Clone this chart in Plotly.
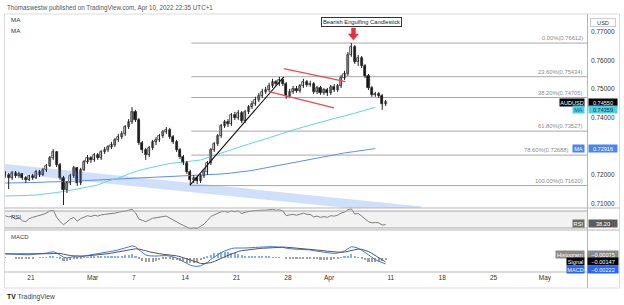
import plotly.graph_objects as go

W, H = 624, 305
FONT = "Liberation Sans, Arial, sans-serif"

# ---------------- data ----------------
opens = [0.7206, 0.7199, 0.7189, 0.7206, 0.7196, 0.7203, 0.7189, 0.7182, 0.7196, 0.7189,
         0.7210, 0.7199, 0.7217, 0.7231, 0.7259, 0.7280, 0.7234, 0.7189, 0.7147, 0.7171,
         0.7196, 0.7224, 0.7171, 0.7217, 0.7245, 0.7259, 0.7252, 0.7269, 0.7259, 0.7280,
         0.7287, 0.7297, 0.7304, 0.7322, 0.7332, 0.7343, 0.7367, 0.7385, 0.7420, 0.7392,
         0.7311, 0.7287, 0.7269, 0.7294, 0.7315, 0.7322, 0.7336, 0.7350, 0.7357, 0.7332,
         0.7315, 0.7287, 0.7262, 0.7241, 0.7210, 0.7182, 0.7189, 0.7178, 0.7196, 0.7210,
         0.7241, 0.7287, 0.7308, 0.7336, 0.7371, 0.7385, 0.7378, 0.7409, 0.7399, 0.7416,
         0.7388, 0.7420, 0.7437, 0.7448, 0.7462, 0.7476, 0.7490, 0.7497, 0.7511, 0.7525,
         0.7518, 0.7532, 0.7518, 0.7476, 0.7490, 0.7501, 0.7494, 0.7511, 0.7525, 0.7515,
         0.7518, 0.7490, 0.7504, 0.7487, 0.7497, 0.7487, 0.7508, 0.7497, 0.7511, 0.7539,
         0.7553, 0.76195, 0.76475, 0.7595, 0.7609, 0.7581, 0.7546, 0.7504, 0.7480, 0.7483,
         0.7476, 0.7448]
highs = [0.7213, 0.7206, 0.7213, 0.7213, 0.7210, 0.7206, 0.7196, 0.7199, 0.7203, 0.7217,
         0.7217, 0.7224, 0.7238, 0.7266, 0.7290, 0.7283, 0.7241, 0.7196, 0.7178, 0.7203,
         0.7231, 0.7227, 0.7224, 0.7252, 0.7269, 0.7266, 0.7276, 0.7276, 0.7287, 0.7297,
         0.7304, 0.7315, 0.7329, 0.7343, 0.7353, 0.7374, 0.7395, 0.7437, 0.7427, 0.7399,
         0.7318, 0.7294, 0.7301, 0.7322, 0.7332, 0.7343, 0.7357, 0.7367, 0.7364, 0.7339,
         0.7322, 0.7294, 0.7269, 0.7248, 0.7217, 0.7199, 0.7196, 0.7203, 0.7220, 0.7248,
         0.7294, 0.7315, 0.7343, 0.7378, 0.7392, 0.7395, 0.7416, 0.7420, 0.7427, 0.7423,
         0.7427, 0.7444, 0.7459, 0.7473, 0.7487, 0.7501, 0.7508, 0.7522, 0.7536, 0.7532,
         0.7543, 0.7539, 0.7525, 0.7501, 0.7511, 0.7511, 0.7518, 0.7536, 0.7532, 0.7529,
         0.7525, 0.7511, 0.7511, 0.7504, 0.7504, 0.7515, 0.7518, 0.7518, 0.7550, 0.7564,
         0.7630, 0.76612, 0.76545, 0.76195, 0.7616, 0.7588, 0.7553, 0.7511, 0.7490, 0.7490,
         0.7483, 0.7462]
lows = [0.7189, 0.7150, 0.7182, 0.7189, 0.7189, 0.7182, 0.7171, 0.7178, 0.7182, 0.7185,
        0.7192, 0.7196, 0.7210, 0.7227, 0.7252, 0.7227, 0.7182, 0.7094, 0.7136, 0.7164,
        0.7189, 0.7161, 0.7164, 0.7213, 0.7238, 0.7241, 0.7245, 0.7252, 0.7252, 0.7273,
        0.7280, 0.7290, 0.7297, 0.7315, 0.7325, 0.7336, 0.7360, 0.7378, 0.7385, 0.7304,
        0.7276, 0.7252, 0.7262, 0.7287, 0.7304, 0.7315, 0.7329, 0.7343, 0.7325, 0.7308,
        0.7280, 0.7255, 0.7234, 0.7203, 0.7162, 0.7171, 0.7168, 0.7171, 0.7189, 0.7199,
        0.7234, 0.7280, 0.7301, 0.7329, 0.7364, 0.7367, 0.7371, 0.7392, 0.7392, 0.7381,
        0.7381, 0.7413, 0.7430, 0.7441, 0.7455, 0.7469, 0.7483, 0.7490, 0.7504, 0.7511,
        0.7511, 0.7511, 0.7466, 0.7469, 0.7483, 0.7487, 0.7487, 0.7504, 0.7508, 0.7508,
        0.7483, 0.7483, 0.7480, 0.7480, 0.7476, 0.7480, 0.7490, 0.7490, 0.7504, 0.7532,
        0.7546, 0.7613, 0.7588, 0.7581, 0.7574, 0.7539, 0.7497, 0.7473, 0.7473, 0.7469,
        0.7427, 0.7441]
closes = [0.7199, 0.7189, 0.7206, 0.7196, 0.7203, 0.7189, 0.7182, 0.7196, 0.7189, 0.7210,
          0.7199, 0.7217, 0.7231, 0.7259, 0.7280, 0.7234, 0.7189, 0.7147, 0.7171, 0.7196,
          0.7224, 0.7171, 0.7217, 0.7245, 0.7259, 0.7252, 0.7269, 0.7259, 0.7280, 0.7287,
          0.7297, 0.7304, 0.7322, 0.7332, 0.7343, 0.7367, 0.7385, 0.7420, 0.7392, 0.7311,
          0.7287, 0.7269, 0.7294, 0.7315, 0.7322, 0.7336, 0.7350, 0.7357, 0.7332, 0.7315,
          0.7287, 0.7262, 0.7241, 0.7210, 0.7182, 0.7189, 0.7178, 0.7196, 0.7210, 0.7241,
          0.7287, 0.7308, 0.7336, 0.7371, 0.7385, 0.7378, 0.7409, 0.7399, 0.7416, 0.7388,
          0.7420, 0.7437, 0.7448, 0.7462, 0.7476, 0.7490, 0.7497, 0.7511, 0.7525, 0.7518,
          0.7532, 0.7518, 0.7476, 0.7490, 0.7501, 0.7494, 0.7511, 0.7525, 0.7515, 0.7518,
          0.7490, 0.7504, 0.7487, 0.7497, 0.7487, 0.7508, 0.7497, 0.7511, 0.7539, 0.7553,
          0.76195, 0.76475, 0.7595, 0.7609, 0.7581, 0.7546, 0.7504, 0.7480, 0.7483, 0.7476,
          0.7448, 0.7455]

ma_fast = [0.71256, 0.71256, 0.71273, 0.71291, 0.71326, 0.71378, 0.71431, 0.71501, 0.71571,
           0.71641, 0.71781, 0.71886, 0.72026, 0.72149, 0.72237, 0.72324, 0.72394, 0.72429,
           0.72464, 0.72517, 0.72640, 0.72762, 0.72885, 0.73007, 0.73112, 0.73217, 0.73340,
           0.73462, 0.73567, 0.73672, 0.73777, 0.73882, 0.73970, 0.74057, 0.74162, 0.74250,
           0.74359]
ma_slow = [0.71711, 0.71711, 0.71728, 0.71728, 0.71746, 0.71746, 0.71763, 0.71781, 0.71798,
           0.71816, 0.71833, 0.71851, 0.71868, 0.71886, 0.71903, 0.71921, 0.71938, 0.71956,
           0.71956, 0.71973, 0.71991, 0.72026, 0.72061, 0.72096, 0.72149, 0.72219, 0.72289,
           0.72341, 0.72411, 0.72481, 0.72551, 0.72621, 0.72691, 0.72762, 0.72814, 0.72867,
           0.72916]

rsi = [59, 56, 58, 51, 54, 47, 45, 52, 55, 57,
       59, 62, 65, 70, 72, 55, 45, 38, 44, 51,
       55, 46, 52, 56, 59, 57, 60, 58, 61, 62,
       63, 63, 65, 67, 68, 70, 72, 74, 66, 51,
       48, 45, 49, 53, 54, 56, 57, 58, 53, 50,
       44, 40, 36, 32, 28, 30, 29, 34, 39, 48,
       57, 61, 65, 68, 69, 67, 70, 68, 70, 64,
       67, 69, 70, 71, 72, 72, 72, 73, 74, 72,
       73, 70, 59, 61, 62, 60, 63, 65, 62, 62,
       56, 58, 55, 57, 55, 59, 58, 60, 65, 67,
       73, 75, 63, 64, 58, 51, 45, 42, 43, 42,
       37, 38.2]

macd = [0.0016, 0.0015, 0.0015, 0.0014, 0.0014, 0.0013, 0.0012, 0.0012, 0.0013, 0.0014,
        0.0015, 0.0016, 0.0018, 0.0021, 0.0023, 0.0019, 0.0012, 0.0003, 0.0000, 0.0002,
        0.0005, 0.0003, 0.0005, 0.0008, 0.0011, 0.0013, 0.0015, 0.0017, 0.0019, 0.0021,
        0.0023, 0.0025, 0.0027, 0.0030, 0.0033, 0.0037, 0.0041, 0.0045, 0.0042, 0.0030,
        0.0020, 0.0011, 0.0008, 0.0007, 0.0007, 0.0008, 0.0009, 0.0009, 0.0007, 0.0004,
        0.0000, -0.0006, -0.0013, -0.0020, -0.0027, -0.0030, -0.0031, -0.0029, -0.0024, -0.0016,
        -0.0005, 0.0004, 0.0012, 0.0020, 0.0026, 0.0031, 0.0035, 0.0037, 0.0038, 0.0037,
        0.0037, 0.0037, 0.0038, 0.0039, 0.0040, 0.0041, 0.0041, 0.0042, 0.0042, 0.0041,
        0.0041, 0.0040, 0.0036, 0.0034, 0.0033, 0.0032, 0.0032, 0.0032, 0.0031, 0.0030,
        0.0027, 0.0025, 0.0022, 0.0020, 0.0018, 0.0018, 0.0017, 0.0018, 0.0022, 0.0026,
        0.0034, 0.0042, 0.0040, 0.0036, 0.0029, 0.0020, 0.0010, 0.0001, -0.0006, -0.0012,
        -0.0018, -0.00222]
signal = [0.0015, 0.0015, 0.0015, 0.0015, 0.0015, 0.0014, 0.0014, 0.0014, 0.0014, 0.0014,
          0.0014, 0.0015, 0.0015, 0.0016, 0.0017, 0.0018, 0.0017, 0.0014, 0.0011, 0.0009,
          0.0008, 0.0007, 0.0007, 0.0007, 0.0008, 0.0009, 0.0010, 0.0012, 0.0013, 0.0015,
          0.0016, 0.0018, 0.0020, 0.0022, 0.0024, 0.0026, 0.0029, 0.0032, 0.0034, 0.0033,
          0.0031, 0.0027, 0.0023, 0.0020, 0.0018, 0.0016, 0.0014, 0.0013, 0.0012, 0.0010,
          0.0008, 0.0005, 0.0001, -0.0003, -0.0008, -0.0013, -0.0017, -0.0020, -0.0021, -0.0020,
          -0.0017, -0.0013, -0.0008, -0.0002, 0.0004, 0.0010, 0.0015, 0.0020, 0.0024, 0.0027,
          0.0029, 0.0031, 0.0033, 0.0034, 0.0035, 0.0036, 0.0037, 0.0038, 0.0039, 0.0040,
          0.0040, 0.0040, 0.0040, 0.0039, 0.0038, 0.0037, 0.0036, 0.0035, 0.0034, 0.0033,
          0.0032, 0.0030, 0.0029, 0.0027, 0.0025, 0.0024, 0.0022, 0.0021, 0.0021, 0.0022,
          0.0025, 0.0029, 0.0032, 0.0033, 0.0032, 0.0029, 0.0024, 0.0017, 0.0009, 0.0002,
          -0.0007, -0.00147]

fib_pct = ["0.00%", "23.60%", "38.20%", "61.80%", "78.60%", "100.00%"]
fib_price = [0.76612, 0.75434, 0.74705, 0.73527, 0.72688, 0.71620]
fib_start_day = 17.6

tick_days = [2, 8, 12, 17, 22, 27, 31, 37, 42, 47, 52]
tick_text = ["21", "Mar", "7", "14", "21", "28", "Apr", "11", "18", "25", "May"]
# 0.73000 is hidden under the MA label in the reference, so it is not drawn
price_ticks = [0.71, 0.72, 0.74, 0.75, 0.76, 0.77]

trend_x, trend_y = [17.47, 26.6], [0.7164, 0.7543]
flag_up_x, flag_up_y = [26.6, 32.6], [0.7572, 0.7526]
flag_lo_x, flag_lo_y = [25.25, 31.48], [0.7490, 0.7434]
chan_x = [-0.53, 40.0]
chan_top = [0.72377, 0.70886]
chan_bot = [0.72061, 0.70571]

last_close_label = "0.74550"
rsi_last_label = "38.20"
hist_label, signal_label, macd_label = "\u22120.00075", "\u22120.00147", "\u22120.00222"

# ---------------- derived positions ----------------
n = len(closes)
bar_x = [-0.5 + i / 3 for i in range(n)]
ma_x = [-0.5 + k for k in range(len(ma_fast))]
hist = [m - s for m, s in zip(macd, signal)]
peak_i = highs.index(max(highs))

X_RANGE = [-0.525, 56.09]
BODY_W = 0.2
MIN_BODY = 0.00025


def px(x):
    return x / W


def py(y):
    return 1 - y / H


fig = go.Figure()

# descending channel band
fig.add_trace(go.Scatter(
    x=[chan_x[0], chan_x[1], chan_x[1], chan_x[0], chan_x[0]],
    y=[chan_top[0], chan_top[1], chan_bot[1], chan_bot[0], chan_top[0]],
    fill="toself", fillcolor="rgba(110,155,240,0.32)", line=dict(width=0),
    mode="lines", hoverinfo="skip", xaxis="x", yaxis="y"))

# moving averages
fig.add_trace(go.Scatter(x=ma_x, y=ma_slow, mode="lines",
                         line=dict(color="#5b8ff0", width=1), xaxis="x", yaxis="y"))
fig.add_trace(go.Scatter(x=ma_x, y=ma_fast, mode="lines",
                         line=dict(color="#5fd6e2", width=1), xaxis="x", yaxis="y"))

# candles: wicks
wx, wy = [], []
for x, h, l in zip(bar_x, highs, lows):
    wx += [x, x, None]
    wy += [l, h, None]
fig.add_trace(go.Scatter(x=wx, y=wy, mode="lines", line=dict(color="#222222", width=1),
                         xaxis="x", yaxis="y", hoverinfo="skip"))
# candles: bodies
for up in (True, False):
    bx, base, hgt = [], [], []
    for x, o, c in zip(bar_x, opens, closes):
        if (c >= o) == up:
            bx.append(x)
            base.append(min(o, c))
            hgt.append(max(abs(c - o), MIN_BODY))
    fig.add_trace(go.Bar(
        x=bx, y=hgt, base=base, width=BODY_W, xaxis="x", yaxis="y",
        marker=dict(color="#ffffff" if up else "#111111",
                    line=dict(color="#222222", width=0.7))))

# trend lines
fig.add_trace(go.Scatter(x=trend_x, y=trend_y, mode="lines",
                         line=dict(color="#111111", width=1.1), xaxis="x", yaxis="y"))
for fx, fy in ((flag_up_x, flag_up_y), (flag_lo_x, flag_lo_y)):
    fig.add_trace(go.Scatter(x=fx, y=fy, mode="lines",
                             line=dict(color="#f0475a", width=1.3), xaxis="x", yaxis="y"))

# RSI
fig.add_trace(go.Scatter(x=bar_x, y=rsi, mode="lines",
                         line=dict(color="#7d7d7d", width=1), xaxis="x2", yaxis="y2"))

# MACD
fig.add_trace(go.Bar(x=bar_x, y=hist, width=0.2,
                     marker=dict(color=["#7fb0f5" if h >= 0 else "#a0a0a0" for h in hist],
                                 line=dict(width=0)),
                     xaxis="x3", yaxis="y3"))
fig.add_trace(go.Scatter(x=bar_x, y=macd, mode="lines",
                         line=dict(color="#3b78f0", width=1), xaxis="x3", yaxis="y3"))
fig.add_trace(go.Scatter(x=bar_x, y=signal, mode="lines",
                         line=dict(color="#555555", width=1), xaxis="x3", yaxis="y3"))

shapes = []
# outer frame
shapes.append(dict(type="rect", xref="paper", yref="paper", x0=px(4.5), x1=px(619.5),
                   y0=py(288), y1=py(14), line=dict(color="#dcdcdc", width=1)))
# fib lines
for p in fib_price:
    shapes.append(dict(type="line", xref="x", yref="y", x0=fib_start_day, x1=X_RANGE[1],
                       y0=p, y1=p, line=dict(color="#a8a8a8", width=1), layer="below"))
# RSI band
shapes.append(dict(type="rect", xref="paper", yref="y2", x0=px(5), x1=px(587), y0=30, y1=70,
                   fillcolor="rgba(0,0,0,0.05)", line=dict(width=0), layer="below"))
for lv in (30, 70):
    shapes.append(dict(type="line", xref="paper", yref="y2", x0=px(5), x1=px(587), y0=lv, y1=lv,
                       line=dict(color="#a5a5a5", width=1)))
# pane separators
for yy in (208, 230, 272):
    shapes.append(dict(type="line", xref="paper", yref="paper", x0=px(4.5), x1=px(619.5),
                       y0=py(yy), y1=py(yy), line=dict(color="#b5b5b5", width=1)))
# price-axis separator
shapes.append(dict(type="line", xref="paper", yref="paper", x0=px(587.5), x1=px(587.5),
                   y0=py(288), y1=py(14), line=dict(color="#b5b5b5", width=1)))
# red block arrow above the engulfing candle (pixel-sized, anchored on the high)
shapes.append(dict(type="path", xref="x", yref="y", xsizemode="pixel", ysizemode="pixel",
                   xanchor=bar_x[peak_i] + 0.2, yanchor=highs[peak_i],
                   path="M -2,15 L 2,15 L 2,9 L 5,9 L 0,3 L -5,9 L -2,9 Z",
                   fillcolor="#e0333f", line=dict(color="#e0333f", width=0.5)))

ann = []


def text(x, y, s, size=6.5, color="#333333", xanchor="left", **kw):
    ann.append(dict(x=px(x), y=py(y), xref="paper", yref="paper", text=s, showarrow=False,
                    xanchor=xanchor, yanchor="middle",
                    font=dict(family=FONT, size=size, color=color), **kw))


def box(xc, y, s, bg, fg="#ffffff", w=27, xanchor="center"):
    ann.append(dict(x=px(xc), y=py(y), xref="paper", yref="paper",
                    text=s, showarrow=False, xanchor=xanchor, yanchor="middle",
                    bgcolor=bg, borderpad=0, width=w, height=7, align="center",
                    font=dict(family=FONT, size=5.6, color=fg)))


text(5, 7.5, "Thomaswestw published on TradingView.com, Apr 10, 2022 22:35 UTC+1", size=6.3,
     color="#555555")
text(9, 20, "MA", size=6.2)
text(9, 30.5, "MA", size=6.2)
text(9, 216.5, "RSI", size=6, color="#444444")
text(9, 237, "MACD", size=6, color="#444444")
text(5, 296.5, "<b>TV</b> <span style='color:#444'>TradingView</span>", size=6.8, color="#111111")

# fib labels (the 78.6% one stops short of the MA price label next to it)
for pct, p in zip(fib_pct, fib_price):
    right = 571 if pct == "78.60%" else 585
    ann.append(dict(x=px(right), y=p, xref="paper", yref="y", text=f"{pct}({p:.5f})",
                    showarrow=False, xanchor="right", yanchor="bottom", yshift=0,
                    font=dict(family=FONT, size=5.8, color="#8c8c8c")))

# pattern annotation
ann.append(dict(x=bar_x[peak_i] + 0.95, y=py(21.5), xref="x", yref="paper",
                xanchor="center", yanchor="middle",
                text="Bearish Engulfing Candlestick", showarrow=False, bgcolor="#ffffff",
                bordercolor="#333333", borderwidth=1, borderpad=1,
                font=dict(family=FONT, size=5.8, color="#222222")))

# price-axis boxes
box(603, 22.5, "USD", "#ffffff", fg="#333333", w=24)
ann[-1].update(bordercolor="#cccccc", borderwidth=1)
box(585, 102.5, "AUDUSD", "#000000", w=24, xanchor="right")
box(602.5, 102.5, last_close_label, "#000000", w=28)
box(585, 110, "MA", "#4fd0e0", fg="#1f5aa8", w=11, xanchor="right")
box(602.5, 110, f"{ma_fast[-1]:.5f}", "#4fd0e0", fg="#123050", w=28)
box(585, 148, "MA", "#4a86f0", w=11, xanchor="right")
box(602.5, 148, f"{ma_slow[-1]:.5f}", "#4a86f0", w=28)
box(585, 223, "RSI", "#6a6a6a", w=11, xanchor="right")
box(602.5, 223, rsi_last_label, "#5c5c5c", w=28)
box(585, 254, "Histogram", "#8a8a8a", w=28, xanchor="right")
box(603, 254, hist_label, "#8a8a8a", w=30)
box(585, 261.5, "Signal", "#000000", w=17, xanchor="right")
box(603, 261.5, signal_label, "#000000", w=30)
box(585, 269, "MACD", "#2962ff", w=17, xanchor="right")
box(603, 269, macd_label, "#2962ff", w=30)

axis_common = dict(showgrid=False, zeroline=False, showline=False, fixedrange=True)
fig.update_layout(
    width=W, height=H, autosize=False,
    margin=dict(l=0, r=0, t=0, b=0),
    paper_bgcolor="#ffffff", plot_bgcolor="#ffffff",
    showlegend=False, bargap=0, barmode="overlay",
    font=dict(family=FONT, color="#333333"),
    xaxis=dict(domain=[px(5), px(587)], range=X_RANGE, anchor="y", showticklabels=False,
               **axis_common),
    xaxis2=dict(domain=[px(5), px(587)], range=X_RANGE, matches="x", anchor="y2",
                showticklabels=False, **axis_common),
    xaxis3=dict(domain=[px(5), px(587)], range=X_RANGE, matches="x", anchor="y3",
                tickvals=tick_days, ticktext=tick_text, ticks="",
                tickfont=dict(family=FONT, size=6.5, color="#333333"), **axis_common),
    yaxis=dict(domain=[py(208), py(14)], range=[0.70835, 0.77630], anchor="x", side="right",
               tickvals=price_ticks, ticktext=[f"{v:.5f}" for v in price_ticks], ticks="",
               ticklabelstandoff=3,
               tickfont=dict(family=FONT, size=6.5, color="#333333"), **axis_common),
    yaxis2=dict(domain=[py(230), py(208)], range=[25.3, 77.06], anchor="x2",
                showticklabels=False, **axis_common),
    yaxis3=dict(domain=[py(272), py(230)], range=[-0.00519, 0.01037], anchor="x3",
                showticklabels=False, **axis_common),
    shapes=shapes,
    annotations=ann,
)

fig.write_html("out.html")
